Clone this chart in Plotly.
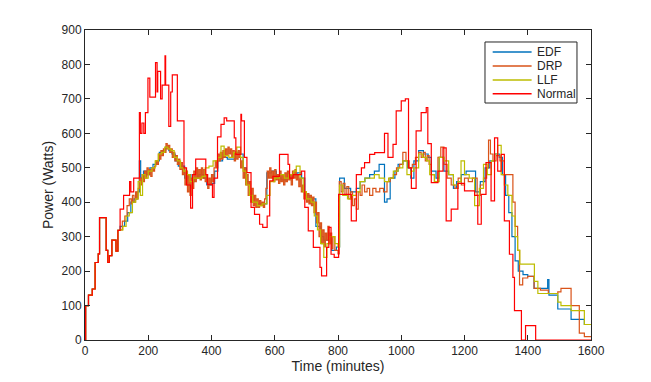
import plotly.graph_objects as go

# ---- data (step breakpoints: time in minutes, power in watts) ----
normal_t = [0, 2, 11, 23, 32, 42, 46, 67, 72, 77, 85, 98, 104, 111, 122, 141, 145, 154, 172, 175, 180, 186, 191,
            199, 205, 223, 228, 230, 239, 244, 253, 255, 265, 271, 276, 292, 313, 321, 334, 340, 350, 382, 387,
            403, 408, 419, 430, 440, 448, 472, 477, 493, 495, 504, 512, 525, 536, 552, 562, 576, 584, 594, 615,
            642, 647, 658, 684, 695, 706, 722, 743, 748, 764, 771, 778, 788, 802, 842, 858, 874, 884, 900, 916,
            947, 958, 974, 984, 1000, 1013, 1023, 1032, 1047, 1063, 1079, 1084, 1095, 1116, 1132, 1142, 1158,
            1179, 1200, 1232, 1242, 1253, 1268, 1284, 1295, 1305, 1316, 1326, 1342, 1353, 1358, 1380, 1393,
            1425, 1600]
normal_w = [0, 100, 130, 148, 225, 250, 355, 260, 225, 245, 290, 258, 318, 380, 420, 460, 430, 470, 660, 600, 630,
            600, 660, 760, 705, 805, 720, 780, 700, 740, 825, 740, 620, 720, 770, 636, 500, 450, 383, 480, 525,
            480, 452, 414, 470, 590, 626, 645, 636, 587, 539, 655, 636, 530, 486, 385, 365, 336, 327, 360, 462,
            475, 539, 510, 470, 480, 490, 385, 317, 269, 211, 186, 269, 327, 249, 240, 423, 346, 480, 500, 515,
            539, 544, 600, 530, 568, 665, 694, 700, 500, 440, 607, 660, 675, 570, 457, 490, 558, 346, 380, 455,
            433, 420, 336, 423, 515, 404, 587, 490, 539, 346, 249, 182, 85, 0, 42, 0, 0]

edf_t = [0, 2, 11, 23, 32, 42, 46, 67, 72, 77, 85, 98, 104, 111, 125, 135, 145, 155, 165, 172, 176, 185, 195, 205,
         215, 225, 235, 245, 255, 265, 275, 285, 295, 315, 325, 335, 345, 360, 375, 385, 400, 410, 420, 435, 450,
         475, 490, 500, 510, 520, 530, 545, 575, 590, 605, 620, 640, 655, 670, 685, 695, 710, 720, 730, 745, 755,
         780, 795, 805, 820, 840, 858, 870, 885, 900, 915, 930, 947, 955, 965, 980, 990, 1005, 1020, 1030, 1040,
         1055, 1070, 1085, 1095, 1110, 1120, 1135, 1150, 1165, 1175, 1190, 1205, 1235, 1250, 1265, 1280, 1295,
         1310, 1320, 1330, 1340, 1350, 1360, 1370, 1385, 1400, 1420, 1463, 1467, 1495, 1537, 1579, 1600]
edf_w = [0, 100, 130, 148, 225, 250, 355, 260, 225, 245, 290, 258, 318, 330, 345, 370, 400, 410, 430, 520, 470, 490,
         480, 500, 510, 520, 545, 550, 560, 550, 540, 520, 505, 470, 480, 460, 470, 480, 470, 450, 455, 490, 520,
         530, 525, 545, 540, 500, 460, 420, 400, 395, 485, 490, 470, 465, 470, 480, 485, 470, 420, 400, 410, 330,
         300, 290, 260, 270, 470, 440, 430, 440, 460, 470, 480, 490, 510, 400, 410, 470, 490, 510, 520, 500, 470,
         520, 550, 540, 530, 490, 470, 530, 490, 480, 440, 460, 480, 490, 430, 460, 500, 520, 540, 530, 480, 420,
         370, 300, 230, 200, 190, 185, 150, 175, 130, 90, 60, 45, 45]

drp_t = [0, 2, 11, 23, 32, 42, 46, 67, 72, 77, 85, 98, 104, 111, 118, 126, 133, 140, 146, 150, 155, 160, 164, 168,
         172, 176, 180, 184, 188, 192, 196, 200, 204, 208, 212, 216, 220, 224, 228, 232, 236, 240, 244, 248, 252,
         256, 260, 264, 268, 272, 276, 280, 284, 288, 292, 296, 300, 304, 308, 312, 316, 320, 324, 328, 332, 336,
         340, 344, 348, 352, 356, 360, 364, 368, 372, 376, 380, 384, 388, 392, 396, 400, 404, 408, 412, 416, 420,
         424, 428, 432, 436, 440, 444, 448, 452, 456, 460, 464, 468, 472, 476, 480, 484, 488, 492, 496, 500, 504,
         508, 512, 516, 520, 524, 528, 532, 536, 540, 544, 548, 552, 556, 560, 564, 568, 572, 576, 580, 584, 588,
         592, 596, 600, 604, 608, 612, 616, 620, 624, 628, 632, 636, 640, 644, 648, 652, 656, 660, 664, 668, 672,
         676, 680, 684, 688, 692, 696, 700, 704, 708, 712, 716, 720, 724, 728, 732, 736, 740, 744, 748, 752, 756,
         760, 764, 768, 772, 776, 780, 784, 790, 800, 804, 810, 816, 822, 828, 834, 840, 846, 852, 858, 864, 870,
         876, 884, 892, 900, 910, 920, 932, 944, 955, 965, 975, 985, 995, 1005, 1015, 1025, 1035, 1045, 1055,
         1063, 1070, 1076, 1082, 1088, 1095, 1105, 1116, 1125, 1135, 1145, 1158, 1170, 1180, 1190, 1200, 1212,
         1225, 1240, 1250, 1260, 1270, 1276, 1282, 1290, 1300, 1312, 1326, 1353, 1360, 1368, 1374, 1384, 1400,
         1420, 1440, 1465, 1495, 1505, 1537, 1563, 1579, 1600]
drp_w = [0, 100, 130, 148, 225, 250, 355, 260, 225, 245, 290, 258, 318, 320, 345, 360, 390, 410, 395, 420, 400,
         430, 410, 440, 470, 450, 480, 460, 490, 470, 500, 480, 495, 475, 500, 490, 505, 520, 510, 540, 525, 550,
         535, 555, 545, 570, 555, 565, 545, 555, 530, 545, 520, 535, 510, 525, 495, 515, 480, 500, 450, 490, 430,
         480, 420, 470, 440, 490, 460, 500, 470, 495, 465, 500, 470, 495, 460, 480, 440, 470, 450, 480, 460, 500,
         520, 500, 540, 520, 545, 525, 550, 530, 555, 535, 560, 540, 555, 530, 550, 520, 545, 525, 550, 530, 500,
         520, 470, 500, 450, 480, 420, 460, 400, 440, 390, 420, 385, 410, 385, 405, 390, 400, 385, 410, 440, 490,
         470, 500, 470, 490, 460, 495, 465, 480, 455, 490, 460, 480, 450, 485, 460, 490, 465, 480, 450, 490, 470,
         495, 465, 480, 445, 470, 430, 450, 410, 430, 400, 425, 395, 420, 390, 415, 370, 400, 340, 370, 300, 340,
         280, 320, 270, 310, 290, 330, 280, 310, 265, 300, 260, 250, 460, 430, 455, 420, 445, 410, 430, 390, 410,
         380, 430, 420, 450, 430, 440, 420, 440, 430, 440, 430, 460, 470, 480, 500, 510, 545, 520, 500, 510, 530,
         545, 530, 545, 520, 535, 510, 480, 460, 530, 560, 510, 470, 450, 440, 470, 450, 470, 460, 470, 420, 450,
         470, 500, 580, 540, 520, 535, 520, 480, 400, 330, 260, 160, 180, 185, 150, 145, 135, 140, 150, 100, 20,
         10, 10]

llf_t = [0, 2, 11, 23, 32, 42, 46, 67, 72, 77, 85, 98, 104, 111, 120, 130, 140, 150, 160, 168, 175, 182, 190, 200,
         212, 222, 232, 242, 252, 262, 272, 282, 292, 302, 312, 322, 332, 342, 355, 370, 380, 392, 405, 420, 430,
         440, 455, 470, 480, 492, 500, 510, 520, 530, 545, 560, 575, 585, 600, 615, 630, 645, 660, 668, 680, 690,
         700, 715, 725, 735, 745, 755, 765, 775, 790, 800, 805, 815, 830, 842, 858, 870, 885, 900, 915, 930, 947,
         960, 975, 990, 1005, 1018, 1030, 1040, 1055, 1068, 1080, 1090, 1105, 1120, 1135, 1150, 1165, 1180, 1189,
         1200, 1215, 1232, 1247, 1260, 1272, 1285, 1295, 1305, 1316, 1326, 1337, 1350, 1360, 1368, 1375, 1400,
         1421, 1432, 1495, 1505, 1537, 1579, 1600]
llf_w = [0, 100, 130, 148, 225, 250, 355, 260, 225, 245, 290, 258, 318, 320, 330, 360, 370, 400, 410, 460, 420, 480,
         470, 490, 500, 520, 540, 545, 560, 555, 550, 530, 520, 500, 490, 480, 460, 470, 470, 475, 500, 505, 520,
         530, 563, 535, 530, 545, 560, 530, 490, 450, 420, 400, 390, 395, 420, 460, 470, 480, 470, 480, 490, 505,
         470, 430, 410, 400, 360, 320, 280, 240, 280, 300, 280, 270, 450, 420, 410, 420, 430, 460, 470, 470, 480,
         470, 460, 470, 490, 500, 520, 480, 490, 500, 540, 530, 520, 480, 460, 530, 520, 480, 450, 460, 520, 480,
         470, 390, 440, 510, 480, 520, 540, 565, 480, 450, 420, 360, 300, 260, 220, 220, 170, 135, 110, 100, 85,
         45, 45]

series_names = ["EDF", "DRP", "LLF", "Normal"]
series_colors = ["#0072BD", "#D95319", "#BDBD00", "#FF0000"]
series_t = [edf_t, drp_t, llf_t, normal_t]
series_w = [edf_w, drp_w, llf_w, normal_w]

fig = go.Figure()
for name, t, w, c in zip(series_names, series_t, series_w, series_colors):
    fig.add_trace(go.Scatter(x=t, y=w, mode="lines", name=name, showlegend=False,
                             line=dict(color=c, width=1.2, shape="hv")))

axis_common = dict(showline=True, linecolor="#262626", linewidth=1, mirror="ticks",
                   ticks="inside", ticklen=5, tickcolor="#262626", showgrid=False,
                   zeroline=False, automargin=False, tickfont=dict(size=12, color="#262626"))

# ---- compact MATLAB-style legend box (paper coordinates) ----
shapes = [dict(type="rect", xref="paper", yref="paper", x0=0.7905, x1=0.9723, y0=0.7645, y1=0.9613,
               line=dict(color="#262626", width=1), fillcolor="white", layer="above")]
annotations = []
row_y = [0.929, 0.884, 0.839, 0.794]
for name, c, ry in zip(series_names, series_colors, row_y):
    shapes.append(dict(type="line", xref="paper", yref="paper", x0=0.8057, x1=0.8826, y0=ry, y1=ry,
                       line=dict(color=c, width=1.5), layer="above"))
    annotations.append(dict(xref="paper", yref="paper", x=0.8887, y=ry, text=name, showarrow=False,
                            xanchor="left", yanchor="middle", font=dict(size=12, color="#262626")))

fig.update_layout(
    width=651, height=382,
    margin=dict(l=77, r=68, t=22, b=50),
    paper_bgcolor="white", plot_bgcolor="white",
    font=dict(family="Liberation Sans, Arial, sans-serif", color="#262626"),
    xaxis=dict(range=[0, 1600], dtick=200, title=dict(text="Time (minutes)", font=dict(size=14), standoff=0),
               **axis_common),
    yaxis=dict(range=[0, 900], dtick=100, title=dict(text="Power (Watts)", font=dict(size=14), standoff=4),
               **axis_common),
    shapes=shapes,
    annotations=annotations,
    showlegend=False,
)

fig.write_html("out.html")
